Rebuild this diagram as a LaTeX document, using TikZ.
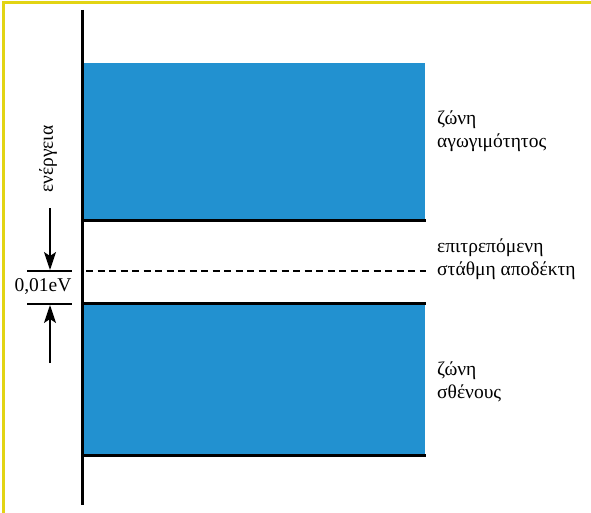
\documentclass[tikz,border=0pt]{standalone}
\usepackage{fontspec}
\setmainfont{Liberation Serif}
\usetikzlibrary{arrows.meta}
\definecolor{bandblue}{RGB}{34,145,208}
\definecolor{frameyellow}{RGB}{226,212,20}
\begin{document}
\begin{tikzpicture}[x=1pt,y=-1pt,
  band/.style={fill=bandblue,draw=none},
  level/.style={line width=3pt},
  tick/.style={line width=1.6pt},
  lbl/.style={anchor=west,inner sep=0pt,align=left,font=\fontsize{19.5}{23}\selectfont},
  txt/.style={inner sep=0pt,font=\fontsize{19.5}{23}\selectfont},
  dimarrow/.style={line width=1.6pt,-{Stealth[length=18pt,width=12pt,inset=4pt]}}]
\useasboundingbox (0,0) rectangle (591,513);
\fill[white] (0,0) rectangle (591,513);
\draw[frameyellow,line width=3pt] (3.5,513) -- (3.5,2.5) -- (591,2.5);
% bands
\fill[band] (84,63) rectangle (425,220);
\fill[band] (84,303) rectangle (425,455);
% levels
\coordinate (cL) at (84,220); \coordinate (cR) at (426,220);
\coordinate (vL) at (84,303); \coordinate (vR) at (426,303);
\coordinate (wL) at (84,455); \coordinate (wR) at (426,455);
\coordinate (aL) at (86,271); \coordinate (aR) at (426,271);
\draw[level] (cL) -- (cR);
\draw[level] (vL) -- (vR);
\draw[level] (wL) -- (wR);
\draw[line width=2pt,dash pattern=on 7pt off 4.5pt] (aL) -- (aR);
% axis
\coordinate (ax0) at (82,10); \coordinate (ax1) at (82,505);
\draw[line width=3pt] (ax0) -- (ax1);
% dimension
\coordinate (t1) at (27,271); \coordinate (t2) at (72,271);
\coordinate (b1) at (27,304); \coordinate (b2) at (72,304);
\draw[tick] (t1) -- (t2);
\draw[tick] (b1) -- (b2);
\coordinate (d1) at (50,208); \coordinate (d1e) at (50,270);
\coordinate (d2) at (50,363); \coordinate (d2e) at (50,305);
\draw[dimarrow] (d1) -- (d1e);
\draw[dimarrow] (d2) -- (d2e);
\node[txt] (ev) at (43,287) {0,01eV};
\node[txt,rotate=90] (en) at (48,159) {ενέργεια};
% labels
\node[lbl] (cbl) at (437,131) {ζώνη\\αγωγιμότητος};
\node[lbl] (abl) at (437,259.5) {επιτρεπόμενη\\στάθμη αποδέκτη};
\node[lbl] (vbl) at (437,381.5) {ζώνη\\σθένους};
\end{tikzpicture}
\end{document}
